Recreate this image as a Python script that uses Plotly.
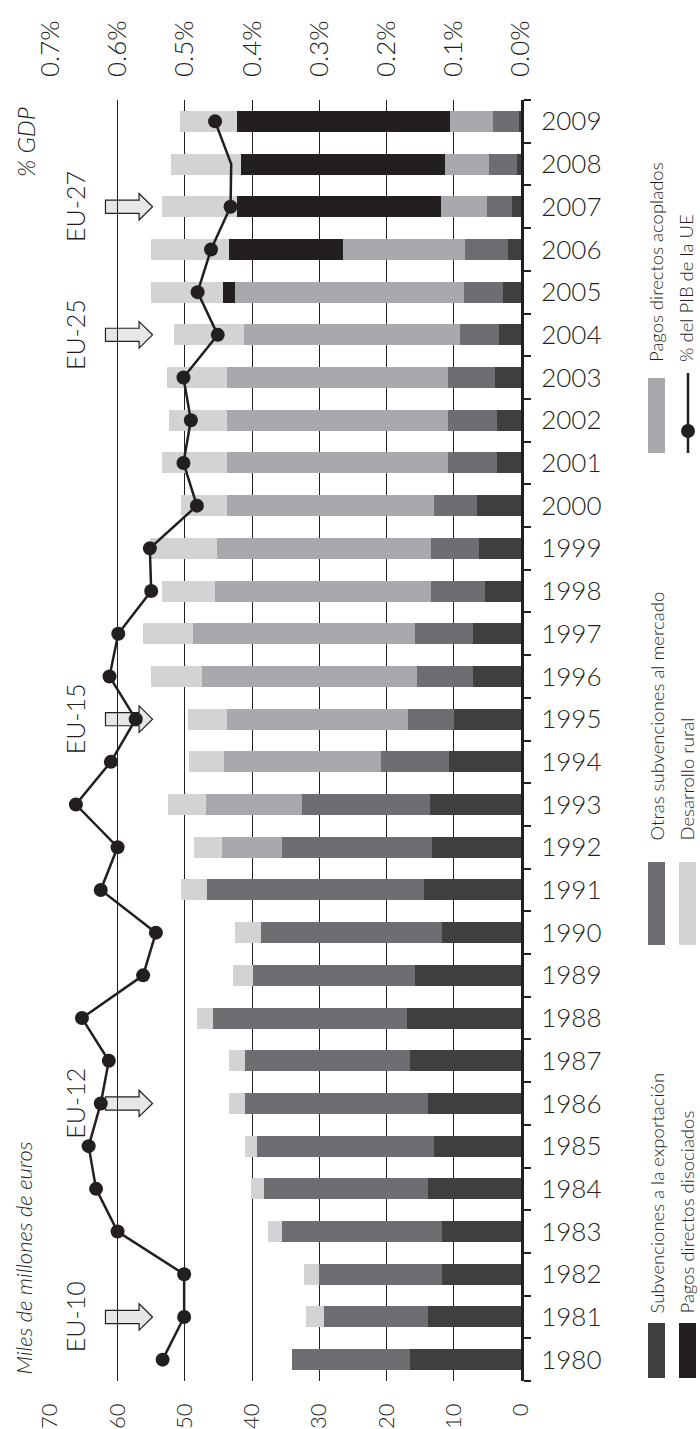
import plotly.graph_objects as go

# ---------------- data ----------------
years = list(range(1980, 2010))

export_subsidies = [16.5, 13.8, 11.8, 11.8, 13.8, 13.0, 13.8, 16.5, 16.9, 15.7,
                    11.8, 14.5, 13.3, 13.6, 10.7, 9.9, 7.1, 7.1, 5.3, 6.3,
                    6.5, 3.6, 3.6, 3.9, 3.3, 2.7, 2.0, 1.3, 0.6, 0.25]
other_market = [17.5, 15.5, 18.2, 23.7, 24.4, 26.2, 27.2, 24.5, 28.9, 24.1,
                26.8, 32.2, 22.3, 18.9, 10.1, 6.9, 8.3, 8.6, 8.1, 7.1,
                6.4, 7.2, 7.2, 7.0, 5.7, 5.8, 6.4, 3.7, 4.2, 3.95]
coupled_payments = [0, 0, 0, 0, 0, 0, 0, 0, 0, 0,
                    0, 0, 8.8, 14.4, 23.3, 26.9, 32.1, 33.1, 32.1, 31.8,
                    30.8, 32.9, 32.9, 32.8, 32.2, 34.0, 18.1, 6.9, 6.5, 6.3]
decoupled_payments = [0, 0, 0, 0, 0, 0, 0, 0, 0, 0,
                      0, 0, 0, 0, 0, 0, 0, 0, 0, 0,
                      0, 0, 0, 0, 0, 1.8, 16.9, 30.3, 30.4, 31.8]
rural_development = [0, 2.7, 2.2, 2.2, 1.9, 1.9, 2.5, 2.5, 2.4, 3.0,
                     3.9, 3.8, 4.2, 5.6, 5.3, 5.9, 7.5, 7.4, 7.9, 10.0,
                     6.8, 9.7, 8.7, 9.0, 10.4, 10.7, 11.6, 11.2, 10.3, 8.4]
gdp_share = [0.533, 0.501, 0.501, 0.600, 0.632, 0.643, 0.625, 0.613, 0.653, 0.562,
             0.543, 0.625, 0.600, 0.662, 0.610, 0.573, 0.612, 0.599, 0.550, 0.552,
             0.482, 0.502, 0.491, 0.502, 0.451, 0.481, 0.461, 0.432, 0.431, 0.455]
gdp_years_without_marker = [2008]

enlargement_labels = ["EU-10", "EU-12", "EU-15", "EU-25", "EU-27"]
enlargement_years = [1981, 1986, 1995, 2004, 2007]

value_ticks = [0, 10, 20, 30, 40, 50, 60, 70]
pct_ticks = [0.0, 0.1, 0.2, 0.3, 0.4, 0.5, 0.6, 0.7]

name_export = "Subvenciones a la exportación"
name_other = "Otras subvenciones al mercado"
name_coupled = "Pagos directos acoplados"
name_decoupled = "Pagos directos disociados"
name_rural = "Desarrollo rural"
name_gdp = "% del PIB de la UE"
unit_label = "Miles de millones de euros"
pct_label = "% GDP"

# ---------------- styling ----------------
INK = "#231f20"
C_EXPORT = "#3f3f40"
C_OTHER = "#6d6e71"
C_COUPLED = "#a7a9ac"
C_DECOUPLED = "#231f20"
C_RURAL = "#d1d3d4"
C_ARROW = "#e6e7e8"
FONT = "Lato"

W, H = 700, 1429
# plot area in page pixels: x 50..521, y 100..1381
L, T = 50, 100
R = W - 521
B = H - 1381
PW = W - L - R
PH = H - T - B


def px(xp):
    """page pixel x -> paper coordinate"""
    return (xp - L) / PW


def py(yp):
    """page pixel y -> paper coordinate"""
    return (H - B - yp) / PH


fig = go.Figure()

for vals, name, col in [
    (export_subsidies, name_export, C_EXPORT),
    (other_market, name_other, C_OTHER),
    (coupled_payments, name_coupled, C_COUPLED),
    (decoupled_payments, name_decoupled, C_DECOUPLED),
    (rural_development, name_rural, C_RURAL),
]:
    fig.add_trace(go.Bar(
        x=vals, y=years, orientation="h", name=name,
        marker=dict(color=col, line=dict(width=0)), width=0.49,
        showlegend=False, hoverinfo="skip",
    ))

marker_sizes = [0 if y in gdp_years_without_marker else 14 for y in years]
fig.add_trace(go.Scatter(
    x=gdp_share, y=years, xaxis="x2", yaxis="y", mode="lines+markers",
    name=name_gdp, line=dict(color=INK, width=2.5),
    marker=dict(color=INK, size=marker_sizes, opacity=1, line=dict(width=0)),
    showlegend=False,
))

# enlargement arrows + labels
shapes = []
annotations = []
x_tail, x_base, x_tip = 61.8, 56.8, 54.8
hs, hh = 0.155, 0.31
for lab, yr in zip(enlargement_labels, enlargement_years):
    path = (f"M {x_tail},{yr - hs} L {x_base},{yr - hs} L {x_base},{yr - hh} "
            f"L {x_tip},{yr} L {x_base},{yr + hh} L {x_base},{yr + hs} "
            f"L {x_tail},{yr + hs} Z")
    shapes.append(dict(type="path", path=path, xref="x", yref="y",
                       fillcolor=C_ARROW, line=dict(color=INK, width=1.2),
                       layer="below"))
    annotations.append(dict(text=lab, x=66.3, y=yr, xref="x", yref="y",
                            textangle=-90, showarrow=False,
                            xanchor="center", yanchor="middle",
                            font=dict(family=FONT, size=25, color=INK, weight=300)))

# axis titles
annotations.append(dict(text=pct_label, x=px(25), y=py(142), xref="paper", yref="paper",
                        textangle=-90, showarrow=False, xanchor="center", yanchor="middle",
                        font=dict(family=FONT, size=24, color=INK, style="italic", weight=300)))
annotations.append(dict(text=unit_label, x=px(23), y=py(1377), xref="paper", yref="paper",
                        textangle=-90, showarrow=False, xanchor="center", yanchor="bottom",
                        font=dict(family=FONT, size=22, color=INK, style="italic", weight=300)))

# legend (rotated)
legend_items = [
    # (name, color, swatch_x_center, text_x_center, swatch_top, swatch_bottom, text_bottom)
    (name_coupled, C_COUPLED, 656.5, 656, 378, 453, 364),
    (name_other, C_OTHER, 656.5, 656, 862, 945, 843),
    (name_rural, C_RURAL, 687.5, 686, 862, 945, 843),
    (name_export, C_EXPORT, 656.5, 656, 1323, 1378, 1316),
    (name_decoupled, C_DECOUPLED, 687.5, 686, 1323, 1378, 1316),
]
for name, col, sx, tx, st, sb, tb in legend_items:
    shapes.append(dict(type="rect", xref="paper", yref="paper",
                       x0=px(sx - 8.5), x1=px(sx + 8.5), y0=py(sb), y1=py(st),
                       fillcolor=col, line=dict(width=0)))
    annotations.append(dict(text=name, x=px(tx), y=py(tb), xref="paper", yref="paper",
                            textangle=-90, showarrow=False, xanchor="center", yanchor="bottom",
                            font=dict(family=FONT, size=18.5, color=INK, weight=300)))
# GDP legend
shapes.append(dict(type="line", xref="paper", yref="paper",
                   x0=px(688), x1=px(688), y0=py(453), y1=py(373),
                   line=dict(color=INK, width=2.5)))
shapes.append(dict(type="circle", xref="paper", yref="paper",
                   x0=px(681), x1=px(695), y0=py(438), y1=py(424),
                   fillcolor=INK, line=dict(color=INK, width=0)))
annotations.append(dict(text=name_gdp, x=px(686), y=py(364), xref="paper", yref="paper",
                        textangle=-90, showarrow=False, xanchor="center", yanchor="bottom",
                        font=dict(family=FONT, size=18.5, color=INK, weight=300)))

fig.update_layout(
    template="none",
    width=W, height=H, autosize=False,
    margin=dict(l=L, r=R, t=T, b=B, pad=0, autoexpand=False),
    paper_bgcolor="white", plot_bgcolor="white",
    barmode="stack", bargap=0.5,
    font=dict(family=FONT, color=INK, weight=300),
    showlegend=False,
    xaxis=dict(range=[70.05, 0], tickvals=value_ticks, tickangle=-90,
               showgrid=True, gridcolor=INK, gridwidth=1.3,
               zeroline=False, showline=False, ticks="", automargin=False,
               tickfont=dict(family=FONT, size=22, color=INK, weight=300),
               ticklabelstandoff=17),
    xaxis2=dict(range=[0.7005, 0], overlaying="x", side="top", anchor="y",
                tickvals=pct_ticks, ticktext=[f"{v:.1f}%" for v in pct_ticks],
                tickangle=-90, showgrid=False, zeroline=False, ticks="",
                showline=False, automargin=False,
                tickfont=dict(family=FONT, size=26, color=INK, weight=300),
                ticklabelstandoff=22),
    yaxis=dict(range=[1979.5, 2009.5], side="right", tickvals=years,
               ticktext=[str(y) for y in years], tickangle=0,
               showgrid=False, zeroline=False, ticks="", automargin=False,
               showline=True, linewidth=3, linecolor=INK,
               minor=dict(ticks="outside", ticklen=7, tickwidth=1.5, tickcolor=INK,
                          tick0=1979.5, dtick=1, showgrid=False),
               tickfont=dict(family=FONT, size=26, color=INK, weight=300),
               ticklabelstandoff=12),
    shapes=shapes,
    annotations=annotations,
)

fig.write_html(
    "out.html",
    config={"displayModeBar": False},
    post_script="document.body.style.margin='0';document.body.style.overflow='hidden';",
)
